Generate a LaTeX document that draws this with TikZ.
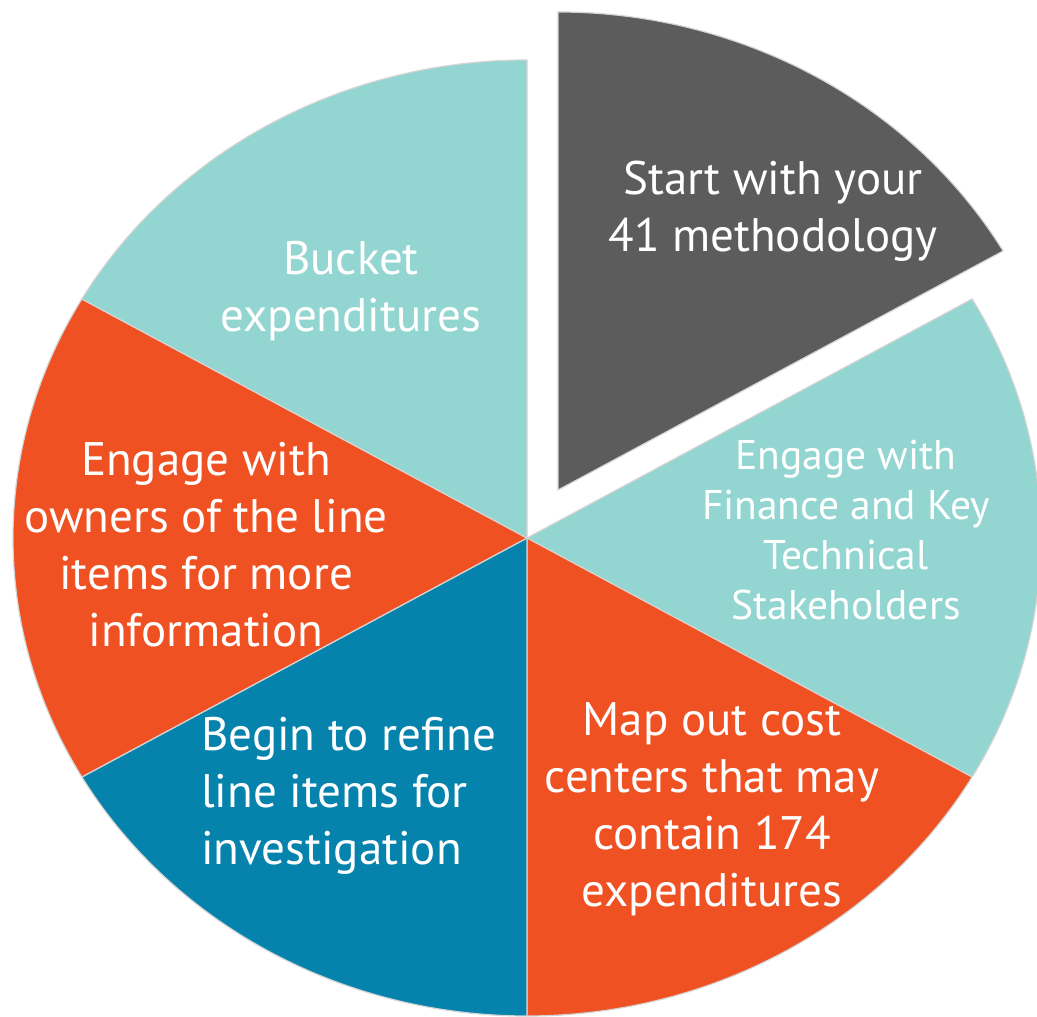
\documentclass[tikz,border=0pt]{standalone}
\usepackage{fontspec}
\setmainfont{PT Sans}
\definecolor{slate}{HTML}{5C5C5C}
\definecolor{mint}{HTML}{93D5D0}
\definecolor{ember}{HTML}{EF5123}
\definecolor{ocean}{HTML}{0683AC}
\definecolor{rim}{HTML}{D4D4D4}
\begin{document}
\begin{tikzpicture}[x=1pt,y=1pt,
  wedge/.style={draw=rim, line width=1.2pt, line join=round},
  lbl/.style={text=white, align=center, inner sep=0pt, font=\fontsize{47}{57}\selectfont},
  lblsmall/.style={lbl, font=\fontsize{41.5}{50}\selectfont}]
\useasboundingbox (0,0) rectangle (1037,1017);
\fill[white] (0,0) rectangle (1037,1017);
\coordinate (C) at (527,479);
\coordinate (Cout) at (558,527);
\def\rx{514}
\def\ry{478}
% six equal sectors of the stretched disc
\foreach \a/\b/\c in {-30/30/mint, -90/-30/ember, 210/270/ocean, 150/210/ember, 90/150/mint}{
  \filldraw[fill=\c, wedge] (C) -- ++({\rx*cos(\a)},{\ry*sin(\a)})
    arc[start angle=\a, end angle=\b, x radius=\rx pt, y radius=\ry pt] -- cycle;
}
% the first step, pulled out of the pie
\filldraw[fill=slate, wedge] (Cout) -- ++({\rx*cos(30)},{\ry*sin(30)})
  arc[start angle=30, end angle=90, x radius=\rx pt, y radius=\ry pt] -- cycle;
\node[lbl] (start) at (773,806) {Start with your\\41 methodology};
\node[lblsmall] (finance) at (846,487) {Engage with\\Finance and Key\\Technical\\Stakeholders};
\node[lbl] (map) at (712,208) {Map out cost\\centers that may\\contain 174\\expenditures};
\node[lbl, align=left, anchor=west] (refine) at (201,221) {Begin to refine\\line items for\\investigation};
\node[lbl] (owners) at (206,472) {Engage with\\owners of the line\\items for more\\information};
\node[lbl] (bucket) at (351,726) {Bucket\\expenditures};
\end{tikzpicture}
\end{document}
